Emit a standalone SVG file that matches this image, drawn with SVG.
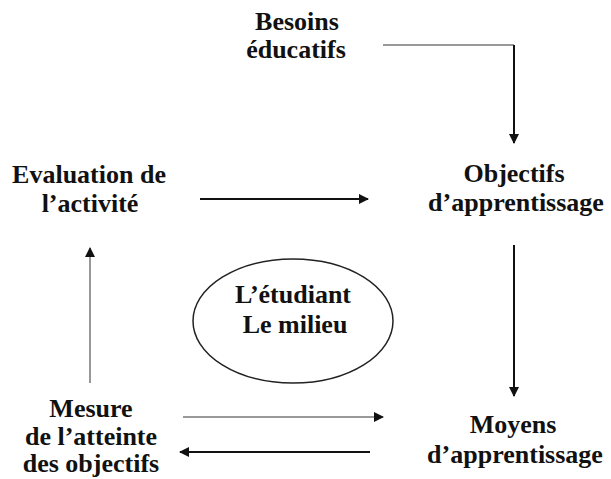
<svg xmlns="http://www.w3.org/2000/svg" width="611" height="479" viewBox="0 0 611 479">
<defs>
<style>
text{font-family:"Liberation Serif","Times New Roman",serif;font-weight:bold;font-size:26px;fill:#111;text-anchor:middle}
.c{fill:none;stroke:#111;stroke-width:2}
.g{fill:none;stroke:#999;stroke-width:2}
</style>
<marker id="ah" markerWidth="10" markerHeight="10" refX="9" refY="5" orient="auto" markerUnits="userSpaceOnUse">
<path d="M0,0 L10,5 L0,10 Z" fill="#111"/>
</marker>
</defs>
<rect width="611" height="479" fill="#fff"/>
<g id="besoins"><text x="297" y="30">Besoins</text><text x="296" y="58">éducatifs</text></g>
<g id="objectifs"><text x="514" y="182">Objectifs</text><text x="516" y="211">d’apprentissage</text></g>
<g id="evaluation"><text x="89" y="183">Evaluation de</text><text x="90" y="212">l’activité</text></g>
<g id="etudiant"><ellipse cx="293" cy="321" rx="100" ry="62" fill="none" stroke="#222" stroke-width="1.5"/><text x="293" y="303">L’étudiant</text><text x="295" y="333">Le milieu</text></g>
<g id="mesure"><text x="91" y="417">Mesure</text><text x="91" y="445">de l’atteinte</text><text x="91" y="472">des objectifs</text></g>
<g id="moyens"><text x="513" y="433">Moyens</text><text x="515" y="463">d’apprentissage</text></g>
<g id="connectors">
<path class="g" d="M383,45 H514"/>
<path class="c" d="M514,45 V143" marker-end="url(#ah)"/>
<path class="c" d="M200,199 H368" marker-end="url(#ah)"/>
<path class="c" d="M514,245 V396" marker-end="url(#ah)"/>
<path class="g" d="M90,383 V248" marker-end="url(#ah)"/>
<path class="g" d="M183,417 H383" marker-end="url(#ah)"/>
<path class="c" d="M370,452 H180" marker-end="url(#ah)"/>
</g>
</svg>
